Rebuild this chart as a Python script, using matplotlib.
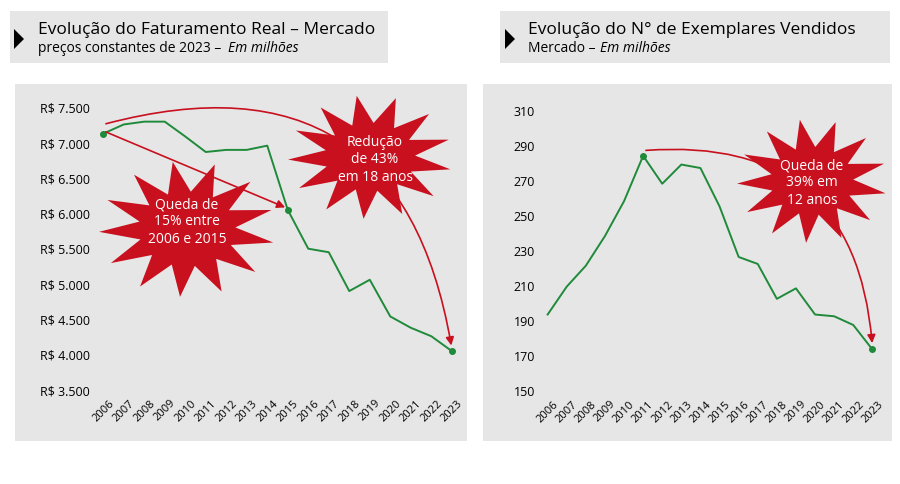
import numpy as np
import matplotlib.pyplot as plt
from matplotlib.patches import Rectangle, Polygon

anos = list(range(2006, 2024))
faturamento = [7120, 7250, 7290, 7290, 7080, 6860, 6890, 6890, 6950, 6040,
               5490, 5440, 4890, 5050, 4530, 4370, 4250, 4040]
exemplares = [193, 209, 221, 238, 258, 284, 268, 279, 277, 255,
              226, 222, 202, 208, 193, 192, 187, 173]

VERDE = '#1f8a3a'
VERMELHO = '#c8101e'
CINZA = '#e6e6e6'
plt.rcParams['font.family'] = 'Open Sans'

fig = plt.figure(figsize=(9, 4.85), dpi=100)
W, H = 900, 485


def box(x0, y0, x1, y1, **kw):
    fig.patches.append(Rectangle((x0 / W, 1 - y1 / H), (x1 - x0) / W, (y1 - y0) / H,
                                 transform=fig.transFigure, zorder=-5, **kw))


def star(cx, cy, rx, ry, n=13):
    ang = np.linspace(0, 2 * np.pi, 2 * n, endpoint=False) + 0.2
    r = np.where(np.arange(2 * n) % 2 == 0, 1.0, 0.55)
    pts = [((cx + rx * rr * np.cos(a)) / W, 1 - (cy + ry * rr * np.sin(a)) / H) for a, rr in zip(ang, r)]
    fig.patches.append(Polygon(pts, closed=True, transform=fig.transFigure,
                               facecolor=VERMELHO, edgecolor='none', zorder=5))


# fundos
box(15, 85, 467, 442, facecolor=CINZA, edgecolor='none')
box(483, 85, 892, 442, facecolor=CINZA, edgecolor='none')
box(10, 12, 388, 64, facecolor=CINZA, edgecolor='none')
box(500, 12, 890, 64, facecolor=CINZA, edgecolor='none')
for tx in (14, 505):
    fig.patches.append(Polygon([((tx) / W, 1 - 30 / H), ((tx) / W, 1 - 50 / H), ((tx + 10) / W, 1 - 40 / H)],
                               transform=fig.transFigure, facecolor='black'))

fig.text(38 / W, 1 - 30 / H, 'Evolução do Faturamento Real – Mercado', fontsize=12.5, va='center')
fig.text(38 / W, 1 - 48 / H, 'preços constantes de 2023 – ', fontsize=10, va='center')
fig.text(228 / W, 1 - 48 / H, 'Em milhões', fontsize=10, va='center', style='italic')
fig.text(528 / W, 1 - 30 / H, 'Evolução do N° de Exemplares Vendidos', fontsize=12.5, va='center')
fig.text(528 / W, 1 - 48 / H, 'Mercado – ', fontsize=10, va='center')
fig.text(600 / W, 1 - 48 / H, 'Em milhões', fontsize=10, va='center', style='italic')

# esquerda
ax1 = fig.add_axes([95 / W, 1 - 393 / H, 365 / W, 288 / H])
ax1.patch.set_alpha(0)
ax1.plot(anos, faturamento, color=VERDE, lw=1.4)
ax1.plot([2006, 2015, 2023], [faturamento[0], faturamento[9], faturamento[-1]], 'o', color=VERDE, ms=4)
ax1.set_ylim(3460, 7540)
ax1.set_yticks(range(3500, 7501, 500))
ax1.set_yticklabels(['R$ ' + f'{v:,}'.replace(',', '.') for v in range(3500, 7501, 500)])
ax1.set_xlim(2005.6, 2023.4)

ax2 = fig.add_axes([540 / W, 1 - 394 / H, 340 / W, 286 / H])
ax2.patch.set_alpha(0)
ax2.plot(anos, exemplares, color=VERDE, lw=1.4)
ax2.plot([2011, 2023], [exemplares[5], exemplares[-1]], 'o', color=VERDE, ms=4)
ax2.set_ylim(148, 312)
ax2.set_yticks(range(150, 311, 20))
ax2.set_xlim(2005.6, 2023.4)

for ax in (ax1, ax2):
    ax.set_xticks(anos)
    ax.set_xticklabels(anos, rotation=45, fontsize=8)
    ax.tick_params(axis='y', labelsize=9, length=0)
    ax.tick_params(axis='x', length=0)
    for s in ax.spines.values():
        s.set_visible(False)

ar = dict(arrowstyle='-|>', color=VERMELHO, lw=1.2, mutation_scale=12)
ax1.annotate('', xy=(2015, 6060), xytext=(2006, 7160), arrowprops=dict(ar, zorder=6))
ax1.annotate('', xy=(2023, 4080), xytext=(2006, 7250),
             arrowprops=dict(ar, connectionstyle='arc3,rad=-0.55'))
ax2.annotate('', xy=(2023, 175), xytext=(2011, 287),
             arrowprops=dict(ar, connectionstyle='arc3,rad=-0.5'))

star(187, 230, 88, 68)
star(370, 158, 82, 62)
star(812, 182, 75, 62)
fig.text(187 / W, 1 - 222 / H, 'Queda de\n15% entre\n2006 e 2015', color='white', fontsize=10,
         ha='center', va='center', zorder=7, linespacing=1.2)
fig.text(375 / W, 1 - 160 / H, 'Redução\nde 43%\nem 18 anos', color='white', fontsize=10,
         ha='center', va='center', zorder=7, linespacing=1.2)
fig.text(812 / W, 1 - 183 / H, 'Queda de\n39% em\n12 anos', color='white', fontsize=10,
         ha='center', va='center', zorder=7, linespacing=1.2)

fig.savefig('out.png', dpi=100)
